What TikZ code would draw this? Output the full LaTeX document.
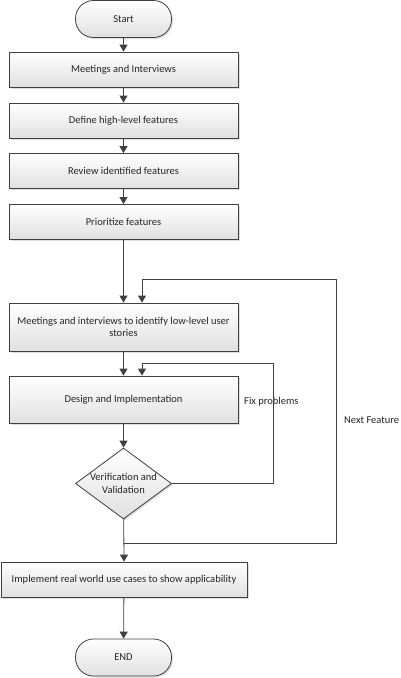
\documentclass[tikz,border=0pt]{standalone}
\usepackage{fontspec}
\setmainfont{Carlito}
\usetikzlibrary{arrows.meta,shapes.geometric,shadows}
\definecolor{ln}{HTML}{404040}
\definecolor{tx}{HTML}{262626}
\tikzset{
  base/.style={draw=ln, line width=0.8pt, top color=white, bottom color=black!12,
    drop shadow={opacity=0.25, shadow xshift=1.5pt, shadow yshift=-1.5pt},
    text=tx, font=\fontsize{10.5}{12.5}\selectfont, align=center, inner sep=0pt},
  procbox/.style={base, rectangle, minimum width=229pt, minimum height=35pt},
  termbox/.style={base, rectangle, rounded corners=18pt, minimum width=96pt, minimum height=37pt},
  dia/.style={base, diamond, minimum width=96pt, minimum height=71pt},
  lbl/.style={text=tx, font=\fontsize{10.5}{12.5}\selectfont, anchor=west, inner sep=0pt},
  arr/.style={draw=ln, line width=0.8pt, -{Triangle[width=8pt,length=7pt]}},
  ln/.style={draw=ln, line width=0.8pt}
}
\begin{document}
\begin{tikzpicture}[x=1pt,y=-1pt]
\useasboundingbox (0,0) rectangle (401,678);
\node[termbox] (start) at (123.5,19) {Start};
\node[procbox] (b1) at (123.5,69.5) {Meetings and Interviews};
\node[procbox] (b2) at (123.5,120.5) {Define high-level features};
\node[procbox] (b3) at (123.5,171) {Review identified features};
\node[procbox] (b4) at (123.5,222) {Prioritize features};
\node[procbox, minimum height=48pt] (b5) at (123.5,327) {Meetings and interviews to identify low-level user\\stories};
\node[procbox, minimum height=47pt] (b6) at (123.5,399.5) {Design and Implementation};
\node[dia] (vv) at (123.5,483.5) {};
\node[text=tx, font=\fontsize{10.5}{12.5}\selectfont, align=center, inner sep=0pt] (vvt) at (vv.center) {Verification and\\Validation};
\node[procbox, minimum width=246pt] (b7) at (124,579.5) {Implement real world use cases to show applicability};
\node[termbox] (end) at (123.5,657.5) {END};
\node[lbl] (fixl) at (244,402) {Fix problems};
\node[lbl] (nfl) at (344,420) {Next Feature};
\coordinate (j) at (123.5,543);
\coordinate (nf1) at (336,279);
\coordinate (fp1) at (273,363);
\draw[arr] (start) -- (b1);
\draw[arr] (b1) -- (b2);
\draw[arr] (b2) -- (b3);
\draw[arr] (b3) -- (b4);
\draw[arr] (b4) -- (b5);
\draw[arr] (b5) -- (b6);
\draw[arr] (b6) -- (vv);
\draw[arr] (vv) -- (b7.north);
\draw[arr] (b7) -- (end);
\draw[arr] (j) -| (nf1) -| ([xshift=18.5pt]b5.north);
\draw[arr] (vv.east) -| (fp1) -| ([xshift=18.5pt]b6.north);
\end{tikzpicture}
\end{document}
